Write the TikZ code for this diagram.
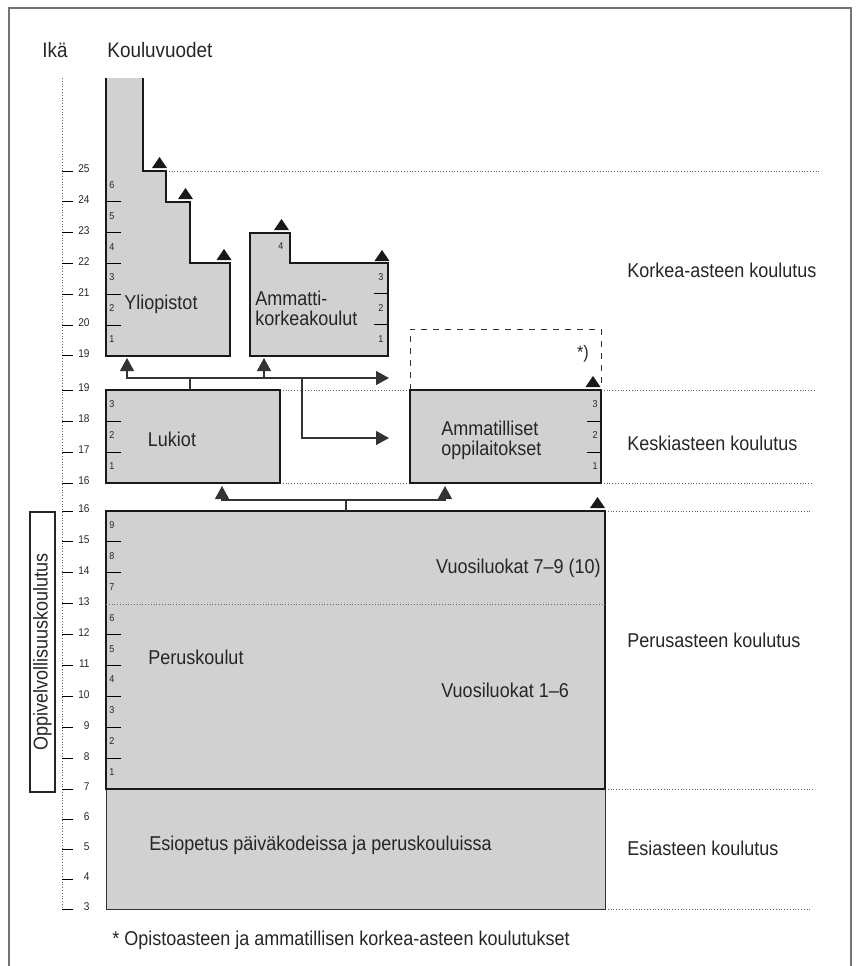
\documentclass[tikz,border=0pt]{standalone}
\usepackage{fontspec}
\setmainfont[FakeStretch=0.9]{Liberation Sans}
\usetikzlibrary{arrows.meta}

\tikzstyle{school}=[draw=black!90, fill=black!18, line width=1pt]
\tikzstyle{conn}=[draw=black!80, line width=0.6pt]
\tikzstyle{arr}=[-{Triangle[length=6.5pt,width=7pt]}]
\tikzstyle{guide}=[draw=black!60, line width=0.4pt, densely dotted]
\tikzstyle{lbl}=[font=\fontsize{10}{10}\selectfont, text=black!85, inner sep=0pt]
\tikzstyle{age}=[font=\fontsize{5.6}{6}\selectfont, text=black!85, inner sep=0pt, anchor=east]
\tikzstyle{yr}=[font=\fontsize{5}{5}\selectfont, text=black!85, inner sep=0pt]

\newcommand{\topflag}[1]{\fill[black!90] #1 ++(-7.5,0) -- ++(15,0) -- ++(-7.5,-11) -- cycle;}

\begin{document}
\begin{tikzpicture}[x=0.5pt, y=-0.5pt]
\useasboundingbox (0,0) rectangle (857,966);

% frame
\draw[black!55, line width=0.6pt] (9,1000) -- (9,8) -- (851,8) -- (851,1000);

\node[lbl, font=\fontsize{10.5}{10.5}\selectfont] (ika) at (55,50) {Ikä};
\node[lbl, font=\fontsize{10.5}{10.5}\selectfont, anchor=west] (vuodet) at (107,50) {Kouluvuodet};

% age scale
\draw[guide] (62,78) -- (62,909);
\foreach \a [count=\i from 0] in {25,24,...,19} {
  \draw[line width=0.5pt] (62,{171+30.8*\i}) -- ++(11,0);
  \node[age] (a1-\a) at (90,{169+30.8*\i}) {\a};
}
\foreach \a [count=\i from 0] in {19,18,17,16} {
  \draw[line width=0.5pt] (62,{390+31*\i}) -- ++(11,0);
  \node[age] (a2-\a) at (90,{388+31*\i}) {\a};
}
\foreach \a [count=\i from 0] in {16,15,...,7} {
  \draw[line width=0.5pt] (62,{511+30.9*\i}) -- ++(11,0);
  \node[age] (a3-\a) at (90,{509+30.9*\i}) {\a};
}
\foreach \a [count=\i from 1] in {6,5,4,3} {
  \draw[line width=0.5pt] (62,{789+30*\i}) -- ++(11,0);
  \node[age] (a4-\a) at (90,{787+30*\i}) {\a};
}

% guide lines
\draw[guide] (166,171) -- (820,171);
\draw[guide] (280,390) -- (410,390);
\draw[guide] (601,390) -- (815,390);
\draw[guide] (280,483) -- (410,483);
\draw[guide] (601,483) -- (812,483);
\draw[guide] (605,511) -- (812,511);
\draw[guide] (605,789) -- (815,789);
\draw[guide] (605,909) -- (810,909);

% Yliopistot
\draw[school] (106,78) -- (106,356) -- (230,356) -- (230,263) -- (190,263)
  -- (190,202) -- (166,202) -- (166,171) -- (143,171) -- (143,78);
\foreach \n [count=\i from 0] in {6,5,...,1}
  \node[yr] (yl-\n) at (112,{185+30.8*\i}) {\n};
\foreach \i in {1,...,5}
  \draw[line width=0.5pt] (106,{171+30.8*\i}) -- ++(15,0);
\node[lbl] (ylio) at (161,304) {Yliopistot};
\topflag{(159.5,168)}
\topflag{(185.5,199)}
\topflag{(224,260)}

% Ammattikorkeakoulut
\draw[school] (250,233) -- (290,233) -- (290,263) -- (388,263) -- (388,356) -- (250,356) -- cycle;
\node[yr] (akk-4) at (281,246) {4};
\foreach \n [count=\i from 0] in {3,2,1}
  \node[yr] (akk-\n) at (381,{277+30.8*\i}) {\n};
\foreach \i in {1,2}
  \draw[line width=0.5pt] (388,{263+30.8*\i}) -- ++(-14,0);
\node[lbl, align=left, anchor=west] (akk) at (255,308) {Ammatti-\\korkeakoulut};
\topflag{(281.5,230)}
\topflag{(382,261)}

% opistoaste
\draw[black!80, dashed, line width=0.5pt] (410,390) -- (410,329) -- (601,329) -- (601,390);
\node[lbl, font=\fontsize{9}{9}\selectfont] (opisto) at (583,354) {*)};

% Lukiot
\draw[school] (106,390) rectangle (280,483);
\foreach \n [count=\i from 0] in {3,2,1}
  \node[yr] (lu-\n) at (112,{404+31*\i}) {\n};
\foreach \i in {1,2}
  \draw[line width=0.5pt] (106,{390+31*\i}) -- ++(15,0);
\node[lbl] (lukiot) at (172,439) {Lukiot};

% Ammatilliset oppilaitokset
\draw[school] (410,390) rectangle (601,483);
\foreach \n [count=\i from 0] in {3,2,1}
  \node[yr] (ao-\n) at (595,{404+31*\i}) {\n};
\foreach \i in {1,2}
  \draw[line width=0.5pt] (601,{390+31*\i}) -- ++(-14,0);
\node[lbl, align=left, anchor=west] (amm) at (441,440) {Ammatilliset\\oppilaitokset};
\topflag{(593,387)}

% Esiopetus
\draw[fill=black!18, draw=black!80, line width=0.5pt] (106,789) rectangle (605,909);
\node[lbl, anchor=west] (esi) at (149,845) {Esiopetus päiväkodeissa ja peruskouluissa};

% Peruskoulut
\draw[school] (106,511) rectangle (605,789);
\draw[guide] (106,604) -- (605,604);
\foreach \n [count=\i from 0] in {9,8,...,1}
  \node[yr] (pk-\n) at (112,{525+30.9*\i}) {\n};
\foreach \i in {1,2,4,5,6,7,8}
  \draw[line width=0.5pt] (106,{511+30.9*\i}) -- ++(15,0);
\node[lbl] (perus) at (196,657) {Peruskoulut};
\node[lbl, anchor=east] (vl79) at (601,568) {Vuosiluokat 7--9 (10)};
\node[lbl, anchor=west] (vl16) at (441,690) {Vuosiluokat 1--6};
\topflag{(597.5,508)}

\draw[black!85, line width=0.6pt] (30,512) rectangle (55,792);
\node[lbl, rotate=90] (oppi) at (42.5,652) {Oppivelvollisuuskoulutus};

% connectors
\coordinate (lukTop) at (190,390);
\coordinate (busA) at (190,378);
\coordinate (fork) at (302,378);
\coordinate (ylioIn) at (127,358);
\coordinate (akkIn) at (264,358);
\coordinate (busEnd) at (389,378);
\coordinate (ammIn) at (389,438);
\draw[conn] (lukTop) -- (busA);
\draw[conn, arr] (busA) -| (ylioIn);
\draw[conn, arr] (busA) -| (akkIn);
\draw[conn, arr] (busA) -- (busEnd);
\draw[conn, arr] (fork) |- (ammIn);

\coordinate (perTop) at (346,511);
\coordinate (busB) at (346,500);
\coordinate (lukIn) at (222,486);
\coordinate (aoIn) at (445,486);
\draw[conn] (perTop) -- (busB);
\draw[conn, arr] (busB) -| (lukIn);
\draw[conn, arr] (busB) -| (aoIn);

% levels
\node[lbl, anchor=west] (korkea) at (627,270) {Korkea-asteen koulutus};
\node[lbl, anchor=west] (keski) at (627,443) {Keskiasteen koulutus};
\node[lbl, anchor=west] (perusaste) at (627,640) {Perusasteen koulutus};
\node[lbl, anchor=west] (esiaste) at (627,848) {Esiasteen koulutus};

\node[lbl, anchor=west] (foot) at (112,940) {* Opistoasteen ja ammatillisen korkea-asteen koulutukset};
\end{tikzpicture}
\end{document}
